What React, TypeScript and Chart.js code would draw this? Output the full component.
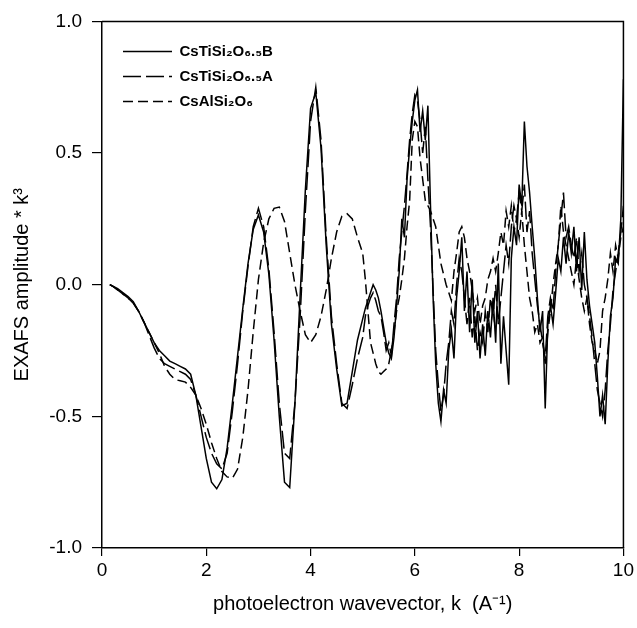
import React, { useEffect, useRef } from 'react';
import { Chart, registerables } from 'chart.js';

Chart.register(...registerables);

// photoelectron wavevector k (A^-1)
const kGrid = [
  0.15, 0.2, 0.3, 0.4, 0.5, 0.6, 0.7, 0.8, 0.9, 1.0,
  1.1, 1.2, 1.3, 1.4, 1.5, 1.6, 1.7, 1.8, 1.9, 2.0,
  2.1, 2.2, 2.3, 2.4, 2.5, 2.6, 2.7, 2.8, 2.9, 3.0,
  3.1, 3.2, 3.3, 3.4, 3.5, 3.6, 3.7, 3.8, 3.9, 4.0,
  4.1, 4.2, 4.3, 4.4, 4.5, 4.6, 4.7, 4.8, 4.9,
  5.0, 5.05, 5.1, 5.15, 5.2, 5.25, 5.3, 5.35, 5.4, 5.45, 5.5, 5.55, 5.6, 5.65, 5.7, 5.75, 5.8, 5.85, 5.9, 5.95,
  6.0, 6.05, 6.1, 6.15, 6.2, 6.25, 6.3, 6.35, 6.4, 6.45, 6.5, 6.55, 6.6, 6.65, 6.7, 6.75, 6.8, 6.85, 6.9, 6.95,
  7.0, 7.05, 7.1, 7.15, 7.2, 7.25, 7.3, 7.35, 7.4, 7.45, 7.5, 7.55, 7.6, 7.65, 7.7, 7.75, 7.8, 7.85, 7.9, 7.95,
  8.0, 8.05, 8.1, 8.15, 8.2, 8.25, 8.3, 8.35, 8.4, 8.45, 8.5, 8.55, 8.6, 8.65, 8.7, 8.75, 8.8, 8.85, 8.9, 8.95,
  9.0, 9.05, 9.1, 9.15, 9.2, 9.25, 9.3, 9.35, 9.4, 9.45, 9.5, 9.55, 9.6, 9.65, 9.7, 9.75, 9.8, 9.85, 9.9, 9.95,
  10.0,
];

// CsTiSi2O6.5B (solid)
const seriesB = [
  0.0, -0.005, -0.015, -0.03, -0.045, -0.065, -0.1, -0.14, -0.18, -0.22,
  -0.25, -0.27, -0.29, -0.3, -0.31, -0.32, -0.34, -0.42, -0.54, -0.66,
  -0.75, -0.775, -0.74, -0.62, -0.45, -0.27, -0.09, 0.08, 0.21, 0.265,
  0.2, 0.04, -0.21, -0.5, -0.75, -0.77, -0.45, -0.04, 0.36, 0.67,
  0.73, 0.52, 0.15, -0.15, -0.32, -0.46, -0.45, -0.33, -0.21,
  -0.13, -0.09, -0.06, -0.03, 0.0, -0.02, -0.05, -0.1, -0.16, -0.22, -0.26, -0.28, -0.2, -0.08, 0.05, 0.25, 0.18, 0.4, 0.52, 0.62,
  0.7, 0.74, 0.58, 0.66, 0.55, 0.68, 0.3, -0.05, -0.3, -0.45, -0.52, -0.4, -0.45, -0.25, -0.17, -0.28, -0.05, 0.05, 0.18, -0.1,
  0.05, -0.18, 0.02, -0.22, -0.1, -0.28, -0.15, -0.27, -0.1, -0.2, -0.05, -0.22, 0.08, -0.3, -0.12, -0.25, -0.38, 0.1, 0.22, 0.15,
  0.38, 0.3, 0.62, 0.45, 0.35, 0.22, 0.1, -0.05, -0.18, -0.1, -0.47, -0.15, -0.08, -0.15, -0.03, 0.1, 0.05, 0.18, 0.08, 0.2,
  0.12, 0.22, 0.05, 0.18, -0.02, 0.2, 0.02, -0.08, -0.15, -0.22, -0.35, -0.5, -0.42, -0.53, -0.3, -0.12, -0.05, 0.1, 0.08, 0.25,
  0.78,
];

// CsTiSi2O6.5A (long dashes)
const seriesA = [
  0.0, -0.005, -0.02, -0.035, -0.05, -0.07, -0.1, -0.14, -0.19, -0.24,
  -0.28, -0.3, -0.31, -0.32, -0.33, -0.34, -0.36, -0.42, -0.5, -0.58,
  -0.64, -0.68, -0.7, -0.64, -0.48, -0.3, -0.1, 0.07, 0.22, 0.29,
  0.22, 0.06, -0.18, -0.45, -0.64, -0.66, -0.45, -0.12, 0.28, 0.62,
  0.75, 0.55, 0.18, -0.12, -0.3, -0.45, -0.47, -0.38, -0.28,
  -0.2, -0.12, -0.08, -0.05, -0.03, -0.06, -0.1, -0.12, -0.18, -0.25, -0.22, -0.27, -0.15, -0.05, 0.1, 0.2, 0.3, 0.42, 0.55, 0.65,
  0.72, 0.7, 0.62, 0.5, 0.6, 0.4, 0.22, -0.02, -0.25, -0.38, -0.48, -0.42, -0.3, -0.22, -0.1, -0.15, 0.0, 0.1, 0.05, -0.05,
  -0.15, -0.05, -0.2, -0.12, -0.25, -0.18, -0.22, -0.1, -0.18, -0.05, -0.12, 0.0, -0.15, -0.05, 0.05, 0.15, 0.08, 0.22, 0.3, 0.25,
  0.35, 0.28, 0.38, 0.2, 0.28, 0.12, 0.02, -0.08, -0.15, -0.22, -0.28, -0.12, -0.05, -0.1, 0.05, 0.15, 0.25, 0.35, 0.18, 0.22,
  0.15, 0.1, 0.18, 0.05, 0.12, 0.0, -0.05, -0.12, -0.2, -0.3, -0.4, -0.45, -0.5, -0.4, -0.25, -0.15, -0.02, 0.05, 0.12, 0.2,
  0.3,
];

// CsAlSi2O6 (short dashes)
const seriesAl = [
  0.0, -0.005, -0.02, -0.035, -0.05, -0.07, -0.1, -0.14, -0.18, -0.22,
  -0.26, -0.31, -0.34, -0.36, -0.365, -0.37, -0.39, -0.42, -0.47, -0.53,
  -0.6, -0.66, -0.71, -0.73, -0.735, -0.7, -0.58, -0.4, -0.18, 0.02,
  0.16, 0.25, 0.29, 0.295, 0.24, 0.12, 0.0, -0.1, -0.19, -0.22,
  -0.19, -0.12, -0.02, 0.1, 0.2, 0.26, 0.27, 0.25, 0.18,
  0.12, 0.02, -0.1, -0.22, -0.26, -0.3, -0.33, -0.34, -0.33, -0.32, -0.3, -0.25, -0.18, -0.1, -0.05, 0.02, 0.1, 0.22, 0.32, 0.55,
  0.62, 0.6, 0.48, 0.4, 0.32, 0.3, 0.28, 0.25, 0.22, 0.15, 0.08, 0.04, 0.0, -0.03, -0.06, 0.05, 0.12, 0.2, 0.22, 0.18,
  0.1, 0.05, -0.02, -0.1, -0.05, -0.15, -0.08, -0.05, 0.02, 0.05, 0.1, 0.05, 0.12, 0.2, 0.15, 0.28, 0.22, 0.3, 0.2, 0.25,
  0.18, 0.28, 0.15, 0.05, -0.05, -0.1, -0.18, -0.15, -0.22, -0.2, -0.3, -0.18, -0.1, 0.0, 0.08, 0.15, 0.3, 0.2, 0.15, 0.1,
  0.05, 0.0, 0.1, 0.02, -0.05, -0.1, -0.05, -0.15, -0.22, -0.25, -0.3, -0.25, -0.1, -0.05, 0.02, 0.12, 0.05, 0.15, 0.1, 0.18,
  0.22,
];

const seriesLabels = ['CsTiSi₂O₆.₅B', 'CsTiSi₂O₆.₅A', 'CsAlSi₂O₆'];
const xTickValues = [0, 2, 4, 6, 8, 10];
const yTickValues = [-1.0, -0.5, 0.0, 0.5, 1.0];
const xTitle = 'photoelectron wavevector, k  (A⁻¹)';
const yTitle = 'EXAFS amplitude * k³';

const FONT = "'Liberation Sans', Arial, Helvetica, sans-serif";

const toPoints = (ys: number[]) => ys.map((y, i) => ({ x: kGrid[i], y }));

const framePlugin = {
  id: 'frame',
  afterDatasetsDraw(chart: any) {
    const { ctx, chartArea } = chart;
    ctx.save();
    ctx.strokeStyle = '#000';
    ctx.lineWidth = 1.5;
    ctx.beginPath();
    ctx.moveTo(chartArea.left, chartArea.top);
    ctx.lineTo(chartArea.right, chartArea.top);
    ctx.lineTo(chartArea.right, chartArea.bottom);
    ctx.stroke();
    ctx.restore();
  },
};

const legendPlacePlugin = {
  id: 'legendPlace',
  afterLayout(chart: any) {
    const lg = chart.legend;
    if (!lg) return;
    lg.left = 113;
    lg.top = 34;
    lg.right = 420;
    lg.bottom = 200;
  },
};

export default function App() {
  const canvasRef = useRef<HTMLCanvasElement | null>(null);

  useEffect(() => {
    const canvas = canvasRef.current;
    if (!canvas) return;
    const dashes = [[], [18, 5], [10, 5]];
    const seriesList = [seriesB, seriesA, seriesAl];
    const chart = new Chart(canvas, {
      type: 'line',
      data: {
        datasets: seriesList.map((s, i) => ({
          label: seriesLabels[i],
          data: toPoints(s),
          borderColor: '#000',
          backgroundColor: '#000',
          borderWidth: 1.5,
          borderDash: dashes[i],
          pointRadius: 0,
          tension: 0,
          fill: false,
        })),
      },
      options: {
        responsive: false,
        animation: false,
        layout: { padding: { top: 19, right: 10, left: 0, bottom: 0 } },
        plugins: {
          tooltip: { enabled: false },
          legend: {
            position: 'chartArea' as any,
            align: 'start',
            labels: {
              usePointStyle: true,
              pointStyle: 'line',
              pointStyleWidth: 49,
              padding: 10,
              color: '#000',
              font: { family: FONT, size: 15, weight: 'bold' },
              generateLabels: (ch: any) => {
                const items = Chart.defaults.plugins.legend.labels.generateLabels(ch);
                return items.map((it: any, i: number) => ({
                  ...it,
                  lineDash: dashes[i],
                  lineWidth: 1.5,
                  strokeStyle: '#000',
                  fillStyle: '#000',
                }));
              },
            },
          },
        },
        scales: {
          x: {
            type: 'linear',
            min: 0,
            max: 10,
            afterFit: (scale: any) => { scale.height = 80; },
            afterBuildTicks: (scale: any) => { scale.ticks = xTickValues.map((v) => ({ value: v })); },
            grid: { display: true, drawOnChartArea: false, drawTicks: true, tickLength: 8, color: '#000', lineWidth: 1.2 },
            border: { display: true, color: '#000', width: 1.5 },
            ticks: { color: '#000', padding: 3, maxRotation: 0, font: { family: FONT, size: 19 }, callback: (v: any) => String(v) },
            title: { display: true, text: xTitle, color: '#000', font: { family: FONT, size: 20 }, padding: { top: 0, bottom: 12 } },
          },
          y: {
            type: 'linear',
            min: -1,
            max: 1,
            afterFit: (scale: any) => { scale.width = 102; },
            afterBuildTicks: (scale: any) => { scale.ticks = yTickValues.map((v) => ({ value: v })); },
            grid: { display: true, drawOnChartArea: false, drawTicks: true, tickLength: 10, color: '#000', lineWidth: 1.2 },
            border: { display: true, color: '#000', width: 1.5 },
            ticks: { color: '#000', padding: 10, font: { family: FONT, size: 19 }, callback: (v: any) => Number(v).toFixed(1) },
            title: { display: true, text: yTitle, color: '#000', font: { family: FONT, size: 20 }, padding: { top: 10, bottom: 0 } },
          },
        },
      },
      plugins: [framePlugin, legendPlacePlugin],
    });
    return () => chart.destroy();
  }, []);

  return (
    <div style={{ position: 'fixed', left: 0, top: 0, width: 637, height: 628, background: '#fff' }}>
      <canvas ref={canvasRef} width={637} height={628} style={{ display: 'block', width: 637, height: 628 }} />
    </div>
  );
}
